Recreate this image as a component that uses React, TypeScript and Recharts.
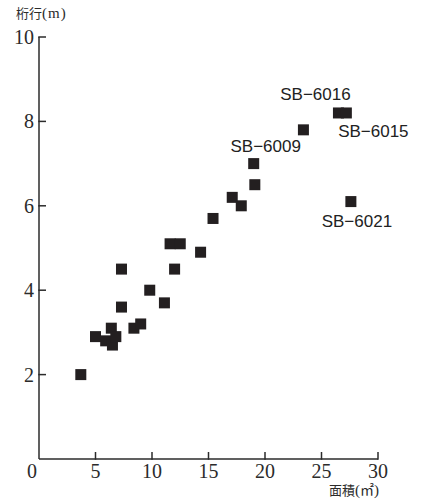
import React from 'react';
import { ScatterChart, Scatter, XAxis, YAxis } from 'recharts';

// 面積 (㎡) / 桁行 (m) per building
const areas = [3.7, 5.0, 5.9, 6.4, 6.5, 6.8, 7.3, 7.3, 8.4, 9.0, 9.8, 11.1, 12.0, 14.3, 11.6, 12.5, 15.4, 17.1, 17.9, 19.0, 19.1, 23.4, 26.5, 27.2, 27.6];
const spans = [2.0, 2.9, 2.8, 3.1, 2.7, 2.9, 3.6, 4.5, 3.1, 3.2, 4.0, 3.7, 4.5, 4.9, 5.1, 5.1, 5.7, 6.2, 6.0, 7.0, 6.5, 7.8, 8.2, 8.2, 6.1];
const names = ['', '', '', '', '', '', '', '', '', '', '', '', '', '', '', '', '', '', '', 'SB−6009', '', '', 'SB−6016', 'SB−6015', 'SB−6021'];

const xTicks = [0, 5, 10, 15, 20, 25, 30];
const yTicks = [2, 4, 6, 8, 10];

const data = areas.map((x, i) => ({ x, y: spans[i], name: names[i] }));

// where each label sits relative to its square (text centre, baseline)
const labelOffset: Record<string, [number, number]> = {
  'SB−6009': [12, -12],
  'SB−6016': [-23, -13],
  'SB−6015': [27, 24],
  'SB−6021': [6, 25],
};

const INK = '#231f20';
const AXIS = '#2b2b2b';
const SERIF = 'Liberation Serif';
const CJK = 'Noto Sans CJK JP';
const TICK_LEN = 7;
const X_GAP = 5;
const Y_GAP = 5;

const SquareDot = (props: any) => {
  const { cx, cy, payload } = props;
  const s = 11;
  const off = payload.name ? labelOffset[payload.name] : null;
  return (
    <g>
      <rect x={cx - s / 2} y={cy - s / 2} width={s} height={s} fill={INK} />
      {off && (
        <text
          x={cx + off[0]}
          y={cy + off[1]}
          textAnchor="middle"
          style={{ fontFamily: 'Liberation Sans', fontSize: 17 }}
          fill="#222"
        >
          {payload.name}
        </text>
      )}
    </g>
  );
};

// ticks point inward, so the tick mark is drawn here with the label
const XTick = (props: any) => {
  const { x, y, payload } = props;
  const shift = payload.value === 0 ? -7 : 0;
  const axisY = y - X_GAP;
  return (
    <g>
      {payload.value !== 0 && (
        <line x1={x} x2={x} y1={axisY + 0.75} y2={axisY - TICK_LEN} stroke={AXIS} strokeWidth={1.5} />
      )}
      <text x={x + shift} y={y} dy="0.71em" textAnchor="middle" style={{ fontFamily: SERIF, fontSize: 20 }} fill={AXIS}>
        {payload.value}
      </text>
    </g>
  );
};

const YTick = (props: any) => {
  const { x, y, payload } = props;
  const axisX = x + Y_GAP;
  return (
    <g>
      <line x1={axisX - 0.75} x2={axisX + TICK_LEN} y1={y} y2={y} stroke={AXIS} strokeWidth={1.5} />
      <text x={x} y={y} dy="0.35em" textAnchor="end" style={{ fontFamily: SERIF, fontSize: 20 }} fill={AXIS}>
        {payload.value}
      </text>
    </g>
  );
};

export default function App() {
  return (
    <div style={{ position: 'absolute', left: 0, top: 0, width: 425, height: 500, background: '#fff' }}>
      <div style={{ position: 'absolute', left: 16, top: 5, whiteSpace: 'nowrap', color: AXIS, lineHeight: 1 }}>
        <span style={{ fontFamily: CJK, fontSize: 13 }}>桁行</span>
        <span style={{ fontFamily: SERIF, fontSize: 15, letterSpacing: 1 }}>(m)</span>
      </div>
      <div style={{ position: 'absolute', left: 329, top: 482, whiteSpace: 'nowrap', color: AXIS, lineHeight: 1 }}>
        <span style={{ fontFamily: CJK, fontSize: 13 }}>面積</span>
        <span style={{ fontFamily: SERIF, fontSize: 15 }}>(</span>
        <span style={{ fontFamily: CJK, fontSize: 14 }}>㎡</span>
        <span style={{ fontFamily: SERIF, fontSize: 15 }}>)</span>
      </div>
      <ScatterChart width={425} height={500} margin={{ top: 37, right: 47, bottom: 0, left: 0 }}>
        <XAxis
          type="number"
          dataKey="x"
          domain={[0, 30]}
          ticks={xTicks}
          height={41}
          tickSize={0}
          tickMargin={X_GAP}
          tickLine={false}
          axisLine={{ stroke: AXIS, strokeWidth: 1.5 }}
          tick={<XTick />}
        />
        <YAxis
          type="number"
          dataKey="y"
          domain={[0, 10]}
          ticks={yTicks}
          width={39}
          tickSize={0}
          tickMargin={Y_GAP}
          tickLine={false}
          axisLine={{ stroke: AXIS, strokeWidth: 1.5 }}
          tick={<YTick />}
        />
        <Scatter data={data} shape={<SquareDot />} isAnimationActive={false} />
      </ScatterChart>
    </div>
  );
}
